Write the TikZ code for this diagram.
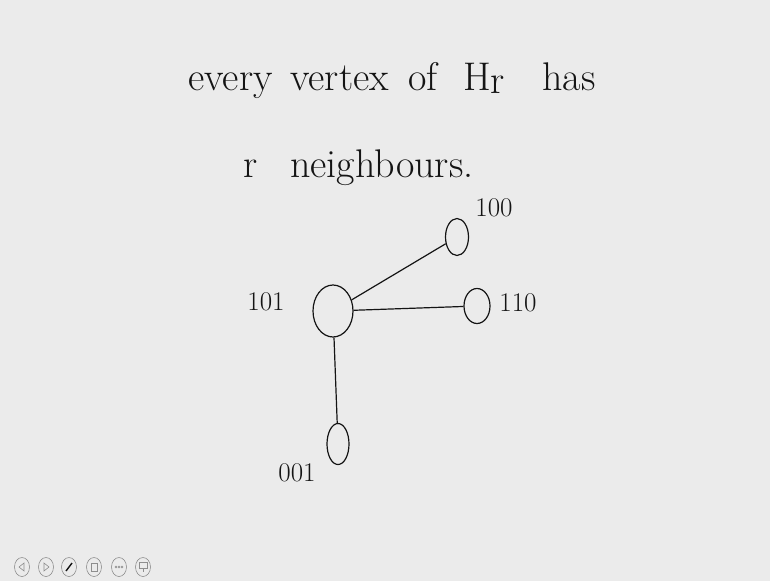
\documentclass[tikz,border=0pt]{standalone}
\usepackage{xcolor}
\usepackage{tikz}
\usetikzlibrary{positioning,shapes.geometric}
\definecolor{board}{HTML}{EBEBEB}
\definecolor{ink}{HTML}{141414}
\definecolor{iconGray}{HTML}{8E8E8E}

\begin{document}
\begin{tikzpicture}[x=1pt,y=-1pt,
    vtx/.style={draw=ink, line width=1.2pt, ellipse, inner sep=0pt},
    lbl/.style={text=ink, inner sep=0pt, font=\fontsize{27}{30}\selectfont},
    hand/.style={text=ink, inner sep=0pt, anchor=base west, font=\fontsize{40}{46}\selectfont},
    link/.style={draw=ink, line width=1.2pt},
    btn/.style={draw=iconGray, line width=0.6pt, ellipse, minimum width=15pt, minimum height=19pt, inner sep=0pt}]
  \fill[board] (0,0) rectangle (770,581);
  \useasboundingbox (0,0) rectangle (770,581);

  % the statement, word by word
  \node[hand] (every) at (188,90) {every};
  \node[hand] (vertex) at (290,90) {vertex};
  \node[hand] (of) at (408,90) {of};
  \node[hand] (Hr) at (463,90) {H\raisebox{-3pt}{r}};
  \node[hand] (has) at (542,90) {has};
  \node[hand] (r) at (243,177) {r};
  \node[hand] (neighbours) at (290,177) {neighbours.};

  % vertex 101 and its r neighbours
  \node[vtx, minimum width=40pt, minimum height=52pt] (v101) at (333,311) {};
  \node[vtx, minimum width=23pt, minimum height=37pt] (v100) at (457,237) {};
  \node[vtx, minimum width=26pt, minimum height=35pt] (v110) at (477,306) {};
  \node[vtx, minimum width=22pt, minimum height=41pt] (v001) at (338,444) {};

  \node[lbl] (t101) at (266,302) {101};
  \node[lbl] (t100) at (494,208) {100};
  \node[lbl] (t110) at (518,303) {110};
  \node[lbl] (t001) at (297,473) {001};

  \draw[link] (v101) -- (v100);
  \draw[link] (v101) -- (v110);
  \draw[link] (v101) -- (v001);

  % player buttons
  \foreach \k/\x in {1/22,2/46,3/69,4/94,5/119,6/143}
    \node[btn] (b\k) at (\x,567) {};
  \draw[iconGray, line width=0.6pt] ([xshift=2pt,yshift=4pt]b1.center) -- ([xshift=-3pt]b1.center) -- ([xshift=2pt,yshift=-4pt]b1.center) -- cycle;
  \draw[iconGray, line width=0.6pt] ([xshift=-2pt,yshift=4pt]b2.center) -- ([xshift=3pt]b2.center) -- ([xshift=-2pt,yshift=-4pt]b2.center) -- cycle;
  \draw[ink, line width=1.4pt] ([xshift=-3pt,yshift=-4pt]b3.center) -- ([xshift=3pt,yshift=4pt]b3.center);
  \draw[iconGray, line width=0.6pt] ([xshift=-3pt,yshift=-4pt]b4.center) rectangle ([xshift=3pt,yshift=4pt]b4.center);
  \foreach \d in {-3,0,3}
    \draw[iconGray, line width=0.5pt] ([xshift=\d pt]b5.center) circle (1pt);
  \draw[iconGray, line width=0.6pt] ([xshift=-4pt,yshift=-1pt]b6.center) rectangle ([xshift=4pt,yshift=5pt]b6.center);
  \draw[iconGray, line width=0.6pt] ([yshift=-1pt]b6.center) -- ([yshift=-5pt]b6.center);
\end{tikzpicture}
\end{document}
